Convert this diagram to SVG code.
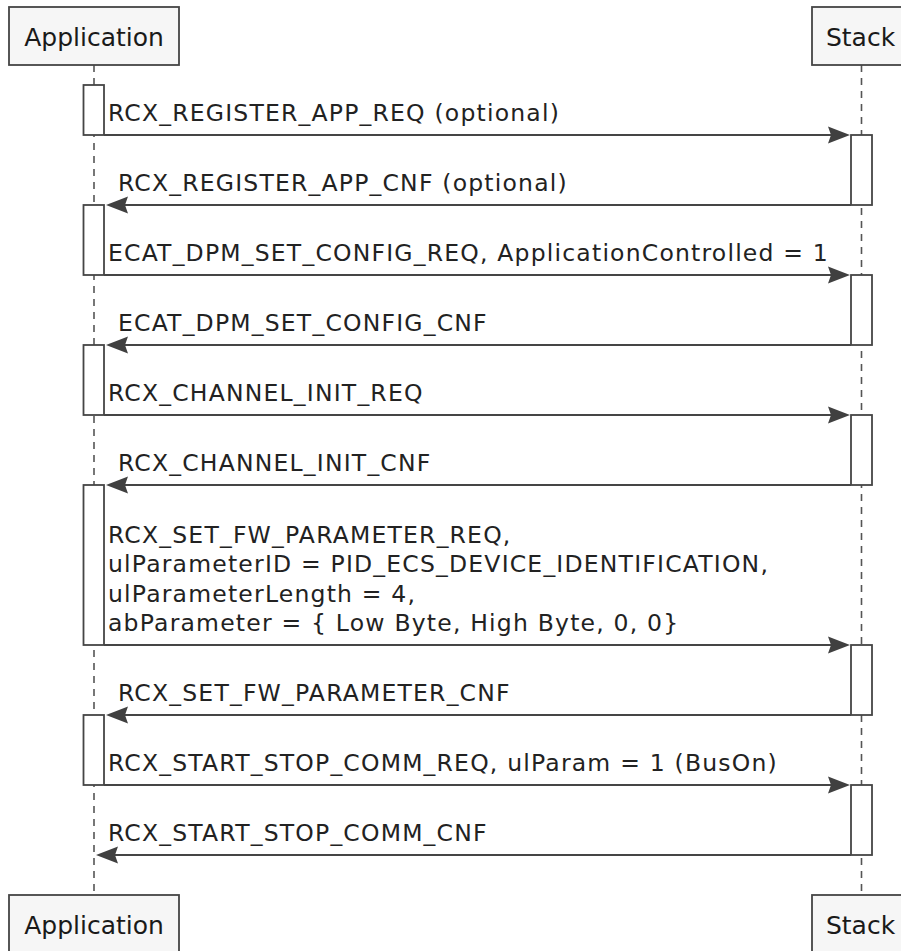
<svg xmlns="http://www.w3.org/2000/svg" width="901" height="951" viewBox="0 0 901 951">
  <style>
    .participant rect { fill: #F6F6F6; stroke: #454545; stroke-width: 1.8; }
    .participant text { font-family: "DejaVu Sans", sans-serif; font-size: 25px; fill: #1a1a1a; }
    .lifeline { stroke: #555555; stroke-width: 1.6; stroke-dasharray: 7 6; fill: none; }
    .activation { fill: #FFFFFF; stroke: #454545; stroke-width: 1.8; }
    .msg { stroke: #454545; stroke-width: 1.8; fill: none; }
    .head { fill: #404040; stroke: none; }
    .label { font-family: "DejaVu Sans", sans-serif; font-size: 23.5px; letter-spacing: 1.2px; fill: #222222; }
  </style>
  <defs>
    <polygon id="headRight" class="head" points="-22,-8.5 0,0 -22,8.5 -19,0"/>
    <polygon id="headLeft" class="head" points="22,-8.5 0,0 22,8.5 19,0"/>
  </defs>

  <rect width="901" height="951" fill="#FFFFFF"/>

  <!-- lifelines -->
  <g id="lifelines">
    <line class="lifeline" x1="94" y1="65" x2="94" y2="895"/>
    <line class="lifeline" x1="861.5" y1="65" x2="861.5" y2="895"/>
  </g>

  <!-- participants, head and foot -->
  <g id="application-top" class="participant">
    <rect x="9" y="7" width="170" height="58"/>
    <text x="94" y="46" text-anchor="middle">Application</text>
  </g>
  <g id="stack-top" class="participant">
    <rect x="812" y="7" width="98" height="58"/>
    <text x="860.5" y="46" text-anchor="middle">Stack</text>
  </g>
  <g id="application-bottom" class="participant">
    <rect x="9" y="895" width="170" height="58"/>
    <text x="94" y="934" text-anchor="middle">Application</text>
  </g>
  <g id="stack-bottom" class="participant">
    <rect x="812" y="895" width="98" height="58"/>
    <text x="860.5" y="934" text-anchor="middle">Stack</text>
  </g>

  <!-- activation bars -->
  <g id="application-activations">
    <rect class="activation" x="83.5" y="85" width="20.5" height="50"/>
    <rect class="activation" x="83.5" y="205" width="20.5" height="70"/>
    <rect class="activation" x="83.5" y="345" width="20.5" height="70"/>
    <rect class="activation" x="83.5" y="485" width="20.5" height="160"/>
    <rect class="activation" x="83.5" y="715" width="20.5" height="70"/>
  </g>
  <g id="stack-activations">
    <rect class="activation" x="851" y="135" width="21" height="70"/>
    <rect class="activation" x="851" y="275" width="21" height="70"/>
    <rect class="activation" x="851" y="415" width="21" height="70"/>
    <rect class="activation" x="851" y="645" width="21" height="70"/>
    <rect class="activation" x="851" y="785" width="21" height="70"/>
  </g>

  <!-- messages -->
  <g id="connectors">
    <line class="msg" x1="104" y1="135" x2="846" y2="135"/>
    <use href="#headRight" x="850" y="135"/>
    <text class="label" x="108" y="121">RCX_REGISTER_APP_REQ (optional)</text>

    <line class="msg" x1="851" y1="205" x2="110" y2="205"/>
    <use href="#headLeft" x="106" y="205"/>
    <text class="label" x="118" y="191">RCX_REGISTER_APP_CNF (optional)</text>

    <line class="msg" x1="104" y1="275" x2="846" y2="275"/>
    <use href="#headRight" x="850" y="275"/>
    <text class="label" x="108" y="261">ECAT_DPM_SET_CONFIG_REQ, ApplicationControlled = 1</text>

    <line class="msg" x1="851" y1="345" x2="110" y2="345"/>
    <use href="#headLeft" x="106" y="345"/>
    <text class="label" x="118" y="331">ECAT_DPM_SET_CONFIG_CNF</text>

    <line class="msg" x1="104" y1="415" x2="846" y2="415"/>
    <use href="#headRight" x="850" y="415"/>
    <text class="label" x="108" y="401">RCX_CHANNEL_INIT_REQ</text>

    <line class="msg" x1="851" y1="485" x2="110" y2="485"/>
    <use href="#headLeft" x="106" y="485"/>
    <text class="label" x="118" y="471">RCX_CHANNEL_INIT_CNF</text>

    <line class="msg" x1="104" y1="645" x2="846" y2="645"/>
    <use href="#headRight" x="850" y="645"/>
    <text class="label" x="108" y="542.5">RCX_SET_FW_PARAMETER_REQ,</text>
    <text class="label" x="108" y="572">ulParameterID = PID_ECS_DEVICE_IDENTIFICATION,</text>
    <text class="label" x="108" y="601.5">ulParameterLength = 4,</text>
    <text class="label" x="108" y="631">abParameter = { Low Byte, High Byte, 0, 0}</text>

    <line class="msg" x1="851" y1="715" x2="110" y2="715"/>
    <use href="#headLeft" x="106" y="715"/>
    <text class="label" x="118" y="701">RCX_SET_FW_PARAMETER_CNF</text>

    <line class="msg" x1="104" y1="785" x2="846" y2="785"/>
    <use href="#headRight" x="850" y="785"/>
    <text class="label" x="108" y="771">RCX_START_STOP_COMM_REQ, ulParam = 1 (BusOn)</text>

    <line class="msg" x1="851" y1="855" x2="100" y2="855"/>
    <use href="#headLeft" x="96" y="855"/>
    <text class="label" x="108" y="841">RCX_START_STOP_COMM_CNF</text>
  </g>
</svg>
